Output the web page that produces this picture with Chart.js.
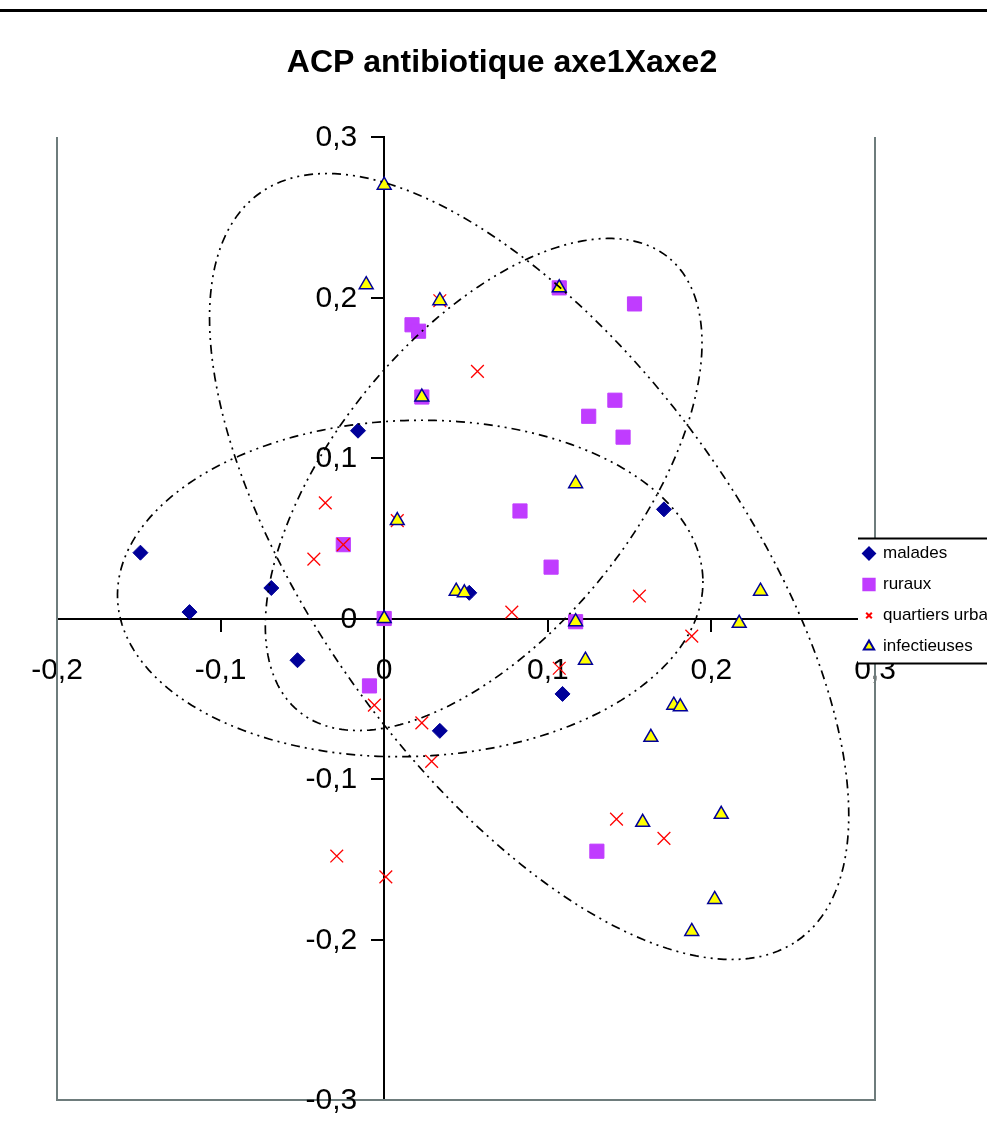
<!DOCTYPE html>
<html>
<head>
<meta charset="utf-8">
<title>ACP antibiotique axe1Xaxe2</title>
<script src="https://cdn.jsdelivr.net/npm/chart.js@4.4.1/dist/chart.umd.min.js"></script>
<style>
  html, body { margin: 0; padding: 0; background: #fff; }
  #wrap { position: relative; width: 987px; height: 1131px; }
  #rule { position: absolute; left: 0; top: 9px; width: 987px; height: 3px; background: #000; }
  #c { position: absolute; left: 0; top: 0; }
</style>
</head>
<body>
<div id="wrap">
  <canvas id="c" width="987" height="1131"></canvas>
  <div id="rule"></div>
</div>
<script>
// ---- données : coordonnées des individus sur les axes 1 et 2 ----
const titre = 'ACP antibiotique axe1Xaxe2';
const groupes = ['malades', 'ruraux', 'quartiers urbains', 'infectieuses'];

const malades = [
  [-0.149, 0.041], [-0.119, 0.004], [-0.069, 0.019], [-0.053, -0.026],
  [-0.016, 0.117], [0.034, -0.070], [0.052, 0.016], [0.109, -0.047],
  [0.171, 0.068]
];
const ruraux = [
  [0.017, 0.183], [0.021, 0.179], [0.107, 0.206], [0.153, 0.196],
  [0.023, 0.138], [0.125, 0.126], [0.141, 0.136], [0.146, 0.113],
  [0.083, 0.067], [0.102, 0.032], [-0.025, 0.046], [0.000, 0.000],
  [0.117, -0.002], [-0.009, -0.042], [0.130, -0.145]
];
const quartiers = [
  [0.034, 0.198], [0.057, 0.154], [-0.036, 0.072], [-0.043, 0.037],
  [-0.025, 0.046], [0.008, 0.061], [0.078, 0.004], [0.156, 0.014],
  [0.188, -0.011], [0.107, -0.031], [-0.006, -0.054], [0.023, -0.065],
  [0.029, -0.089], [-0.029, -0.148], [0.001, -0.161], [0.142, -0.125],
  [0.171, -0.137]
];
const infectieuses = [
  [0.000, 0.270], [-0.011, 0.208], [0.034, 0.198], [0.023, 0.138],
  [0.107, 0.206], [0.117, 0.084], [0.008, 0.061], [0.044, 0.017],
  [0.049, 0.016], [0.000, 0.000], [0.117, -0.002], [0.123, -0.026],
  [0.217, -0.003], [0.230, 0.017], [0.177, -0.054], [0.181, -0.055],
  [0.163, -0.074], [0.158, -0.127], [0.206, -0.122], [0.202, -0.175],
  [0.188, -0.195]
];

const xTickLabels = ['-0,2', '-0,1', '0', '0,1', '0,2', '0,3'];
const yTickLabels = ['-0,3', '-0,2', '-0,1', '0', '0,1', '0,2', '0,3'];

// enveloppes tracées autour des groupes (centre, demi-axes, inclinaison en degrés)
const enveloppes = [
  { cx: 0.0886, cy: 0.0324, a: 0.285, b: 0.130, angle: -54.9 },
  { cx: 0.0608, cy: 0.0835, a: 0.181, b: 0.0925, angle: 51.8 },
  { cx: 0.0159, cy: 0.0187, a: 0.179, b: 0.1047, angle: 2 }
];

const toXY = arr => arr.map(p => ({ x: p[0], y: p[1] }));

const FONT = "'Liberation Sans', Arial, sans-serif";

// titre centré sur la page
const titrePage = {
  id: 'titrePage',
  afterDraw(chart) {
    const { ctx } = chart;
    ctx.save();
    ctx.fillStyle = '#000';
    ctx.font = 'bold 32px ' + FONT;
    ctx.textAlign = 'center';
    ctx.textBaseline = 'middle';
    ctx.fillText(titre, 502, 63);
    ctx.restore();
  }
};

// cadre gris de la zone de tracé (gauche, droite, bas)
const cadre = {
  id: 'cadre',
  beforeDatasetsDraw(chart) {
    const { ctx, chartArea: a } = chart;
    ctx.save();
    ctx.strokeStyle = '#6e7c7c';
    ctx.lineWidth = 2;
    ctx.beginPath();
    ctx.moveTo(a.left, a.top);
    ctx.lineTo(a.left, a.bottom);
    ctx.lineTo(a.right, a.bottom);
    ctx.lineTo(a.right, a.top);
    ctx.stroke();
    ctx.restore();
  }
};

// graduations de l'axe vertical, à gauche de l'axe qui passe par x = 0
const etiquettesY = {
  id: 'etiquettesY',
  afterDraw(chart) {
    const { ctx } = chart;
    const sx = chart.scales.x, sy = chart.scales.y;
    const x0 = sx.getPixelForValue(0);
    ctx.save();
    ctx.fillStyle = '#000';
    ctx.font = '30px ' + FONT;
    ctx.textAlign = 'right';
    ctx.textBaseline = 'middle';
    sy.ticks.forEach((t, i) => {
      ctx.fillText(yTickLabels[i], x0 - 27, sy.getPixelForValue(t.value) + 1);
    });
    ctx.restore();
  }
};

// ellipses en pointillés autour des groupes
const ellipses = {
  id: 'ellipses',
  afterDatasetsDraw(chart) {
    const { ctx } = chart;
    const sx = chart.scales.x, sy = chart.scales.y;
    ctx.save();
    ctx.strokeStyle = '#000';
    ctx.lineWidth = 1.7;
    ctx.setLineDash([9, 5, 2, 5, 2, 5]);
    for (const e of enveloppes) {
      const th = e.angle * Math.PI / 180;
      ctx.beginPath();
      for (let i = 0; i <= 240; i++) {
        const t = i / 240 * 2 * Math.PI;
        const dx = e.a * Math.cos(t), dy = e.b * Math.sin(t);
        const px = sx.getPixelForValue(e.cx + dx * Math.cos(th) - dy * Math.sin(th));
        const py = sy.getPixelForValue(e.cy + dx * Math.sin(th) + dy * Math.cos(th));
        if (i === 0) ctx.moveTo(px, py); else ctx.lineTo(px, py);
      }
      ctx.stroke();
    }
    ctx.restore();
  }
};

// légende posée sur le bord droit du graphique
const legende = {
  id: 'legende',
  afterDraw(chart) {
    const { ctx, chartArea: a } = chart;
    const L = a.right - 17, T = chart.scales.y.getPixelForValue(0) - 80, H = 125;
    const R = chart.width + 4;
    ctx.save();
    ctx.fillStyle = '#fff';
    ctx.fillRect(L, T, R - L, H);
    ctx.strokeStyle = '#000';
    ctx.lineWidth = 2;
    ctx.beginPath();
    ctx.moveTo(L, T); ctx.lineTo(R, T);
    ctx.moveTo(L, T + H); ctx.lineTo(R, T + H);
    ctx.stroke();
    const ds = chart.data.datasets;
    ds.forEach((d, i) => {
      const y = T + 15 + i * 31;
      const x = L + 11;
      ctx.fillStyle = d.backgroundColor;
      ctx.strokeStyle = d.borderColor;
      ctx.setLineDash([]);
      Chart.helpers.drawPoint(ctx, {
        pointStyle: d.pointStyle,
        rotation: 0,
        radius: d.legendRadius,
        borderWidth: d.borderWidth
      }, x, y);
      ctx.fillStyle = '#000';
      ctx.font = '17px ' + FONT;
      ctx.textAlign = 'left';
      ctx.textBaseline = 'middle';
      ctx.fillText(d.label, x + 14, y);
    });
    ctx.restore();
  }
};

new Chart(document.getElementById('c'), {
  type: 'scatter',
  data: {
    datasets: [
      { label: groupes[0], data: toXY(malades), pointStyle: 'rectRot', radius: 7.5, legendRadius: 6,
        backgroundColor: '#000099', borderColor: '#000099', borderWidth: 1, order: 3 },
      { label: groupes[1], data: toXY(ruraux), pointStyle: 'rect', radius: 10, legendRadius: 8,
        backgroundColor: '#c03cff', borderColor: '#c03cff', borderWidth: 1, order: 2 },
      { label: groupes[2], data: toXY(quartiers), pointStyle: 'crossRot', radius: 9, legendRadius: 4,
        backgroundColor: '#ff0000', borderColor: '#ff0000', borderWidth: 1.3, order: 1 },
      { label: groupes[3], data: toXY(infectieuses), pointStyle: 'triangle', radius: 8, legendRadius: 6,
        backgroundColor: '#ffff00', borderColor: '#000099', borderWidth: 1.5, order: 0 }
    ]
  },
  options: {
    responsive: false,
    animation: false,
    events: [],
    layout: { padding: { left: 57, right: 112, top: 137, bottom: 31 } },
    plugins: {
      legend: { display: false },
      tooltip: { enabled: false },
      title: { display: false }
    },
    scales: {
      x: {
        type: 'linear', min: -0.2, max: 0.3,
        position: { y: 0 },
        afterFit(s) { s.height = 0; },
        ticks: {
          stepSize: 0.1, autoSkip: false, maxRotation: 0,
          callback: (v, i) => xTickLabels[i],
          color: '#000', font: { family: FONT, size: 30 }, padding: 22
        },
        grid: { drawOnChartArea: false, drawTicks: true, tickLength: 12, color: '#000', lineWidth: 2 },
        border: { display: true, color: '#000', width: 2 }
      },
      y: {
        type: 'linear', min: -0.3, max: 0.3,
        position: { x: 0 },
        afterFit(s) { s.width = 0; },
        ticks: { stepSize: 0.1, autoSkip: false, display: false },
        grid: { drawOnChartArea: false, drawTicks: true, tickLength: 12, color: '#000', lineWidth: 2 },
        border: { display: true, color: '#000', width: 2 }
      }
    }
  },
  plugins: [cadre, ellipses, etiquettesY, legende, titrePage]
});
</script>
</body>
</html>
